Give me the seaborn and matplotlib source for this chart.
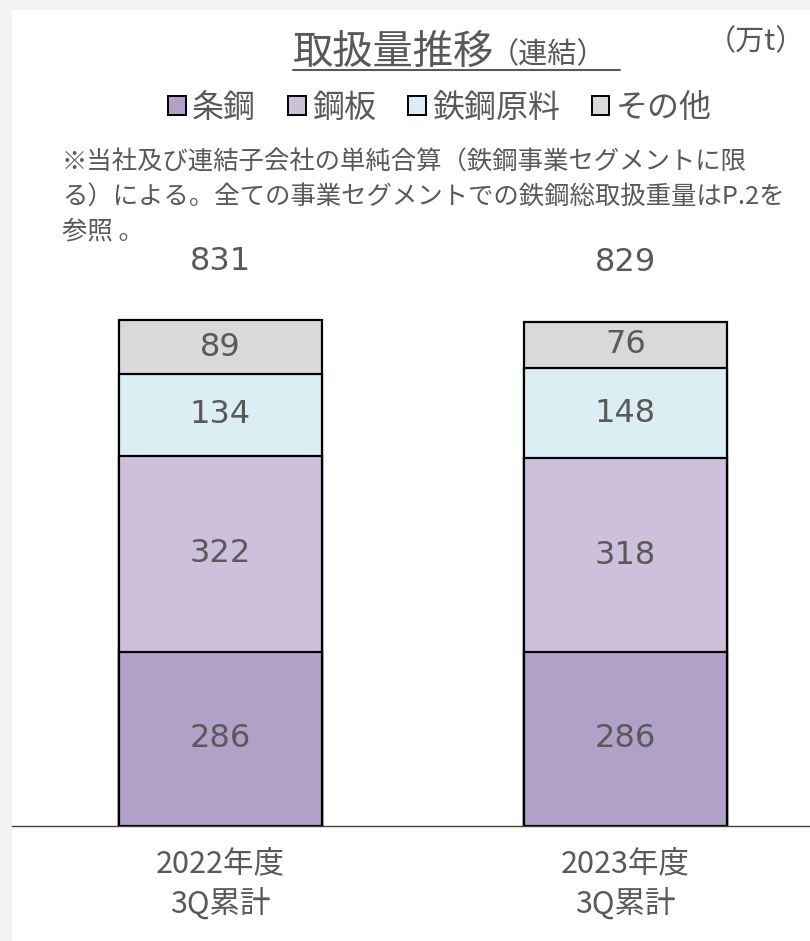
import numpy as np
import pandas as pd
import seaborn as sns
import matplotlib.pyplot as plt
from matplotlib.patches import Patch, Rectangle
from matplotlib.lines import Line2D

# data (万t)
categories = ["2022年度\n3Q累計", "2023年度\n3Q累計"]
layers = ["条鋼", "鋼板", "鉄鋼原料", "その他"]
bar_steel = [286, 286]
sheet_steel = [322, 318]
raw_material = [134, 148]
other = [89, 76]
totals = [831, 829]
colors = ["#b1a0c7", "#ccc0da", "#daeef3", "#d9d9d9"]

note = ("※当社及び連結子会社の単純合算（鉄鋼事業セグメントに限\n"
        "る）による。全ての事業セグメントでの鉄鋼総取扱重量はP.2を\n"
        "参照 。")

sns.set_style("white")
plt.rcParams['font.family'] = ['Noto Sans CJK JP', 'DejaVu Sans']
txt = "#595959"
num_font = ['DejaVu Sans']

W, H = 810, 941
fig = plt.figure(figsize=(W / 100, H / 100), dpi=100, facecolor="#f2f2f2")
fig.patches.append(Rectangle((12 / W, 0), 1 - 12 / W, 1 - 10 / H,
                             transform=fig.transFigure, color="white", zorder=-5))

ax = fig.add_axes([12 / W, 1 - 826 / H, 1 - 12 / W, (826 - 300) / H])
ax.set_facecolor("none")

df = pd.DataFrame({"cat": categories, "条鋼": bar_steel, "鋼板": sheet_steel,
                   "鉄鋼原料": raw_material, "その他": other})
cum = df[layers].cumsum(axis=1)

# draw from tallest stack down so lower segments overlay
for name, col in reversed(list(zip(layers, colors))):
    sns.barplot(x=df["cat"], y=cum[name], color=col, saturation=1, width=0.5,
                edgecolor="black", linewidth=1.6, ax=ax)

# segment labels
for i in range(len(categories)):
    base = 0
    for name in layers:
        v = df[name][i]
        ax.text(i, base + v / 2, str(v), ha="center", va="center",
                fontsize=23, color=txt, family=num_font)
        base += v
    ax.annotate(str(totals[i]), xy=(i, totals[i]), xytext=(0, 42),
                textcoords="offset points", ha="center", va="center",
                fontsize=23, color=txt, family=num_font)

ax.set_xlim(-0.5148, 1.4556)
ax.set_ylim(0, 526 / (506 / 831))
ax.set_xlabel("")
ax.set_ylabel("")
ax.set_yticks([])
ax.set_xticks(range(len(categories)))
ax.set_xticklabels(categories, fontsize=22, color=txt, linespacing=1.3)
ax.tick_params(axis="x", length=0, pad=16)
for s in ["top", "left", "right"]:
    ax.spines[s].set_visible(False)
ax.spines["bottom"].set_color("#404040")
ax.spines["bottom"].set_linewidth(1.0)

# title
fig.text(293 / W, 1 - 52 / H, "取扱量推移", fontsize=29, color=txt,
         ha="left", va="center")
fig.text(490 / W, 1 - 55 / H, "（連結）", fontsize=21, color=txt,
         ha="left", va="center")
fig.add_artist(Line2D([293 / W, 620 / W], [1 - 70 / H, 1 - 70 / H],
                      transform=fig.transFigure, color=txt, lw=1.5))
fig.text(805 / W, 1 - 42 / H, "（万t）", fontsize=21, color=txt,
         ha="right", va="center")

# legend
handles = [Patch(facecolor=c, edgecolor="black", linewidth=1.4) for c in colors]
fig.legend(handles, layers, loc="center", bbox_to_anchor=(440 / W, 1 - 108 / H),
           ncol=4, frameon=False, fontsize=23, handlelength=0.55, handleheight=0.55,
           handletextpad=0.2, columnspacing=1.0, labelcolor=txt)

fig.text(62 / W, 1 - 150 / H, note, fontsize=18.3, color=txt, ha="left", va="top",
         linespacing=1.42)

fig.savefig("out.png", dpi=100, facecolor=fig.get_facecolor())
